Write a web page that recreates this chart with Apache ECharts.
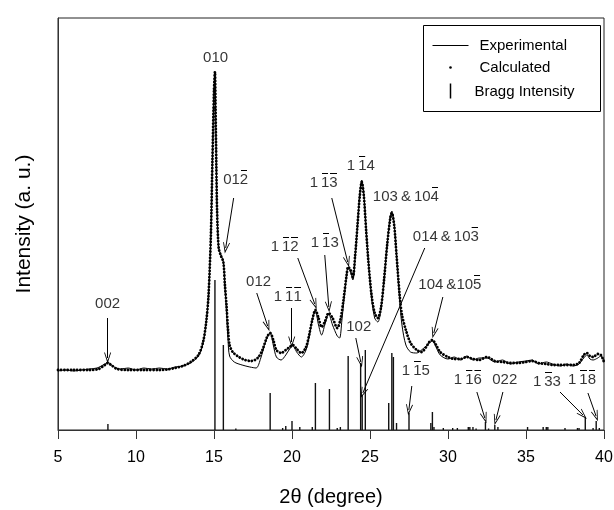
<!DOCTYPE html>
<html>
<head>
<meta charset="utf-8">
<script src="https://cdn.jsdelivr.net/npm/echarts@6/dist/echarts.min.js"></script>
<style>
  html, body { margin: 0; padding: 0; background: #fff; }
  #chart { width: 614px; height: 510px; }
</style>
</head>
<body>
<div id="chart"></div>
<script>
// calculated profile (2theta, intensity a.u.)
const calcTheta = [5.0, 6.0, 7.0, 7.6, 8.0, 8.2, 8.4, 8.8, 9.5, 10.5, 11.5, 12.0, 12.5, 13.0, 13.5, 14.0, 14.3, 14.5, 14.65, 14.8, 14.9, 15.0, 15.06, 15.1, 15.15, 15.2, 15.3, 15.45, 15.6, 15.7, 15.8, 15.9, 16.0, 16.2, 16.6, 17.0, 17.4, 17.8, 18.1, 18.4, 18.6, 18.8, 19.0, 19.3, 19.6, 19.85, 20.05, 20.3, 20.6, 20.9, 21.1, 21.3, 21.5, 21.7, 21.9, 22.1, 22.35, 22.6, 22.9, 23.1, 23.3, 23.5, 23.6, 23.75, 23.9, 24.05, 24.2, 24.35, 24.47, 24.6, 24.75, 24.9, 25.1, 25.3, 25.5, 25.7, 25.9, 26.1, 26.3, 26.4, 26.55, 26.7, 26.9, 27.05, 27.3, 27.6, 28.0, 28.3, 28.6, 28.8, 29.0, 29.2, 29.5, 30.0, 30.4, 30.8, 31.2, 31.6, 32.0, 32.5, 33.0, 33.5, 34.0, 34.5, 35.0, 35.4, 35.8, 36.3, 36.7, 37.2, 37.6, 38.0, 38.4, 38.7, 38.9, 39.1, 39.3, 39.6, 39.8, 40.0];
const calcInt = [60, 60, 60, 61, 65, 67, 65, 61, 60, 60, 60, 60.5, 62, 64, 68, 75, 88, 108, 135, 195, 270, 340, 358, 322, 265, 218, 182, 174, 168, 145, 125, 100, 85, 78, 73, 70, 69, 72, 80, 93, 97, 90, 80, 77, 80, 83, 85, 81, 77, 83, 95, 110, 120, 112, 103, 108, 117, 112, 102, 110, 130, 155, 163, 160, 153, 175, 205, 235, 248, 235, 200, 168, 135, 117, 112, 122, 150, 185, 212, 217, 205, 175, 135, 115, 100, 87, 80, 78, 83, 88, 90, 86, 78, 73, 71, 71, 73, 71, 70, 73, 69, 68, 67, 67, 68, 69, 67, 66, 65, 65, 65, 65, 67, 75, 77, 74, 73, 76, 75, 68];

// experimental profile
const exptTheta = [5.0, 5.5, 6.0, 6.5, 7.0, 7.5, 8.0, 8.2, 8.5, 9.0, 9.5, 10.0, 10.5, 11.0, 11.5, 12.0, 12.5, 13.0, 13.5, 14.0, 14.3, 14.5, 14.65, 14.8, 14.9, 15.0, 15.06, 15.1, 15.15, 15.2, 15.3, 15.45, 15.6, 15.7, 15.8, 15.9, 16.0, 16.3, 16.8, 17.3, 17.7, 18.0, 18.3, 18.6, 18.8, 19.0, 19.3, 19.6, 19.85, 20.05, 20.3, 20.6, 20.9, 21.1, 21.3, 21.5, 21.7, 21.9, 22.1, 22.35, 22.6, 22.9, 23.05, 23.2, 23.4, 23.6, 23.75, 23.9, 24.05, 24.2, 24.35, 24.47, 24.6, 24.75, 24.9, 25.1, 25.3, 25.5, 25.7, 25.9, 26.1, 26.3, 26.4, 26.55, 26.7, 26.9, 27.05, 27.3, 27.6, 28.0, 28.3, 28.6, 28.8, 29.0, 29.2, 29.5, 30.0, 30.4, 30.8, 31.2, 31.6, 32.0, 32.5, 33.0, 33.5, 34.0, 34.5, 35.0, 35.4, 35.8, 36.3, 36.7, 37.2, 37.6, 38.0, 38.4, 38.7, 38.9, 39.1, 39.3, 39.6, 39.8, 40.0];
const exptInt = [59, 60, 59, 60, 61, 62, 66, 68, 64, 61, 62, 60, 62, 61, 62, 61, 63, 64, 67, 74, 87, 108, 135, 195, 270, 342, 358, 322, 265, 218, 182, 175, 168, 143, 118, 90, 74, 68, 65, 63, 62, 72, 88, 97, 85, 73, 70, 75, 81, 84, 78, 73, 80, 93, 110, 119, 105, 95, 105, 116, 105, 94, 92, 110, 140, 162, 158, 150, 172, 205, 237, 250, 237, 202, 168, 132, 112, 108, 120, 150, 186, 214, 219, 206, 175, 130, 105, 85, 78, 77, 80, 84, 87, 89, 84, 75, 71, 73, 70, 74, 70, 72, 72, 68, 70, 66, 68, 69, 70, 66, 68, 66, 64, 66, 64, 66, 72, 75, 71, 70, 72, 74, 70];

// Bragg reflections
const braggTheta = [8.2, 15.06, 15.6, 16.4, 18.6, 19.4, 19.6, 20.0, 20.5, 21.3, 21.5, 22.4, 22.9, 23.1, 23.6, 24.4, 24.5, 24.7, 26.2, 26.4, 26.5, 26.7, 27.5, 28.9, 29.0, 29.1, 29.7, 30.3, 30.6, 31.3, 31.4, 31.6, 31.8, 32.4, 32.6, 33.0, 33.2, 35.1, 36.1, 36.3, 36.4, 37.5, 38.3, 38.4, 38.8, 39.3, 39.5, 39.7];
const braggInt = [6, 150, 85, 1.5, 37, 2, 4, 9, 3, 3, 47, 41, 2, 3, 74, 67, 35, 80, 27, 77, 73, 7, 17, 7, 18, 3, 2, 2, 2, 3, 3, 3, 1.5, 8, 1.5, 5, 3, 3, 3, 3, 3, 2, 2, 2, 12, 2, 9, 2];

const xTicks = [5, 10, 15, 20, 25, 30, 35, 40];

// hkl annotations: text ("~" = bar over next digit), anchor (2theta, intensity)
const peakLabels = [
  ['010', 15.10, 372],
  ['01~2', 16.39, 250],
  ['002', 8.18, 126],
  ['012', 17.86, 148],
  ['1 ~1~1', 19.73, 133],
  ['1 ~1~2', 19.53, 183],
  ['1 ~13', 22.10, 187],
  ['1 ~1~3', 22.03, 247],
  ['1 ~14', 24.41, 264],
  ['103 & 10~4', 27.30, 233],
  ['014 & 10~3', 29.86, 193],
  ['102', 24.28, 103],
  ['104 &10~5', 30.12, 145],
  ['1 ~15', 27.94, 59],
  ['1 ~1~6', 31.27, 50],
  ['022', 33.64, 50],
  ['1 ~33', 36.34, 48],
  ['1 ~1~8', 38.59, 50]
];
// arrows: from (2theta, I) to (2theta, I)
const arrows = [
  [16.26, 232, 15.75, 182],
  [8.18, 112, 8.18, 72],
  [17.74, 137, 18.44, 104],
  [19.98, 122, 19.98, 88],
  [20.37, 172, 21.46, 126],
  [22.10, 175, 22.36, 123],
  [22.55, 232, 23.57, 168],
  [28.51, 182, 24.54, 37],
  [24.09, 92, 24.41, 68],
  [29.67, 133, 29.09, 97],
  [27.68, 44, 27.49, 20],
  [31.85, 38, 32.36, 12],
  [33.52, 38, 33.07, 10],
  [37.18, 38, 38.65, 15],
  [38.97, 37, 39.49, 14]
];

const FONT = 'Liberation Sans, Arial, sans-serif';
const arrowHead = 'path://M5,0L10,12L8.8,12L5,3.2L1.2,12L0,12Z';
const DIGIT_W = 8.34; // one digit at 15px

// small image used as the overline behind a barred digit
const barImg = document.createElement('canvas');
barImg.width = 83;
barImg.height = 200;
const bctx = barImg.getContext('2d');
bctx.fillStyle = '#000';
bctx.fillRect(10, 0, 63, 14);

// every piece goes into a rich token so they are all measured alike
function hkl(s) {
  const parts = s.split(/(~\d)/).filter(Boolean);
  return parts.map(p => p[0] === '~'
    ? '{o|' + p[1] + '}'
    : '{n|' + p.replace(/ /g, '\u2009') + '}').join('');
}

const tok = { fontSize: 15, lineHeight: 20, color: '#000', fontFamily: FONT };

const chart = echarts.init(document.getElementById('chart'));

chart.setOption({
  animation: false,
  textStyle: { fontFamily: FONT },
  grid: {
    left: 58, right: 10, top: 18, bottom: 80,
    outerBoundsMode: 'none',
    show: true, borderColor: '#222', borderWidth: 1
  },
  xAxis: {
    type: 'value',
    min: 5, max: 40, interval: 5,
    name: '2θ (degree)',
    nameLocation: 'middle',
    nameGap: 57,
    nameTextStyle: { fontSize: 20, color: '#000', fontFamily: FONT },
    axisLine: { lineStyle: { color: '#333', width: 1 } },
    axisTick: { length: 9, lineStyle: { color: '#333' } },
    axisLabel: {
      fontSize: 16, color: '#000', margin: 20,
      customValues: xTicks,
      formatter: v => String(v)
    },
    splitLine: { show: false }
  },
  yAxis: {
    type: 'value',
    min: 0, max: 412,
    name: 'Intensity (a. u.)',
    nameLocation: 'middle',
    nameGap: 23,
    nameTextStyle: { fontSize: 21, color: '#000', fontFamily: FONT },
    axisLine: { show: true, lineStyle: { color: '#333' } },
    axisTick: { show: false },
    axisLabel: { show: false },
    splitLine: { show: false }
  },
  series: [
    {
      name: 'Bragg Intensity',
      type: 'bar',
      barWidth: 1.4,
      itemStyle: { color: '#111' },
      data: braggTheta.map((t, i) => [t, braggInt[i]]),
      silent: true
    },
    {
      name: 'Experimental',
      type: 'line',
      smooth: 0.3,
      showSymbol: false,
      lineStyle: { color: '#000', width: 1 },
      data: exptTheta.map((t, i) => [t, exptInt[i]]),
      silent: true
    },
    {
      name: 'Calculated',
      type: 'line',
      smooth: 0.3,
      showSymbol: false,
      lineStyle: { color: '#000', width: 2.8, type: [0.1, 3.1], cap: 'round' },
      data: calcTheta.map((t, i) => [t, calcInt[i]]),
      silent: true
    },
    {
      name: 'labels',
      type: 'scatter',
      symbolSize: 1,
      itemStyle: { color: 'rgba(0,0,0,0)' },
      label: {
        show: true, position: 'inside',
        formatter: p => hkl(p.name),
        fontSize: 15, lineHeight: 20, color: '#000', fontFamily: FONT,
        rich: {
          n: tok,
          o: Object.assign({}, tok, {
            width: DIGIT_W, height: 20, align: 'center',
            backgroundColor: { image: barImg }
          })
        }
      },
      data: peakLabels.map(p => ({ name: p[0], value: [p[1], p[2]] })),
      markLine: {
        silent: true,
        symbol: ['none', arrowHead],
        symbolSize: [7, 11],
        lineStyle: { color: '#000', width: 1, type: 'solid' },
        label: { show: false },
        emphasis: { disabled: true },
        data: arrows.map(a => [{ coord: [a[0], a[1]] }, { coord: [a[2], a[3]] }])
      },
      silent: true
    }
  ],
  graphic: [
    {
      type: 'group', left: 423, top: 25,
      children: [
        { type: 'rect', shape: { x: 0, y: 0, width: 177, height: 86 }, style: { fill: '#fff', stroke: '#000', lineWidth: 1 } },
        { type: 'line', shape: { x1: 9, y1: 20, x2: 45, y2: 20 }, style: { stroke: '#000', lineWidth: 1 } },
        { type: 'text', x: 56, y: 20, style: { text: 'Experimental', fontSize: 15, fontFamily: FONT, fill: '#000', verticalAlign: 'middle' } },
        { type: 'circle', shape: { cx: 27, cy: 42, r: 1.3 }, style: { fill: '#000' } },
        { type: 'text', x: 56, y: 42, style: { text: 'Calculated', fontSize: 15, fontFamily: FONT, fill: '#000', verticalAlign: 'middle' } },
        { type: 'line', shape: { x1: 27, y1: 58, x2: 27, y2: 73 }, style: { stroke: '#000', lineWidth: 1.5 } },
        { type: 'text', x: 51, y: 66, style: { text: 'Bragg Intensity', fontSize: 15, fontFamily: FONT, fill: '#000', verticalAlign: 'middle' } }
      ]
    }
  ]
});
</script>
</body>
</html>
